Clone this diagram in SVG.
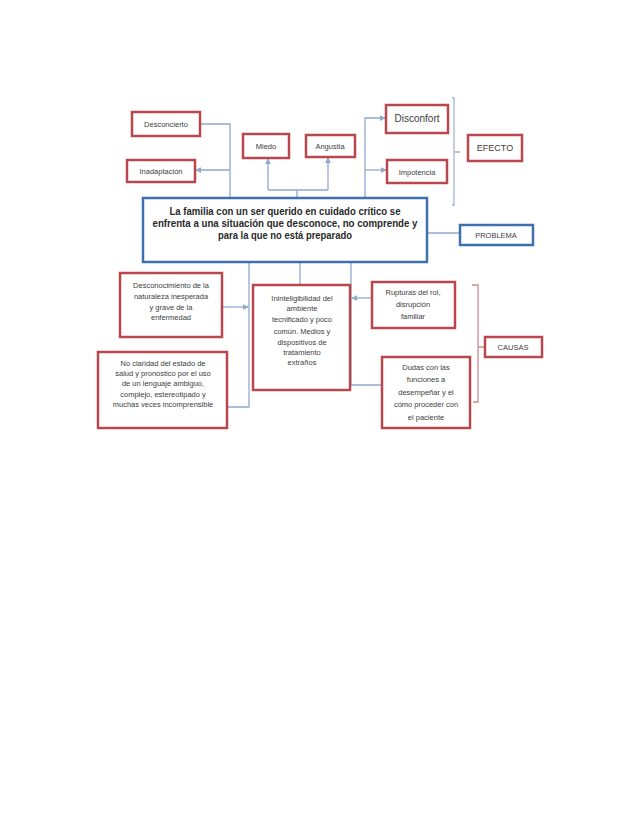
<svg xmlns="http://www.w3.org/2000/svg" width="638" height="826" viewBox="0 0 638 826">
<style>
.rb{fill:#fff;stroke:#b8484e;stroke-width:2.5}
.bb{fill:#fff;stroke:#3f6fae;stroke-width:2.5}
.t{font-family:"Liberation Sans",Arial,sans-serif;font-size:7.5px;fill:#404040;text-anchor:middle}
.m{font-family:"Liberation Sans",Arial,sans-serif;font-size:10px;font-weight:bold;fill:#2a2a2a;text-anchor:middle}
.c{fill:none;stroke:#8fa9cc;stroke-width:1.3}
.br{fill:none;stroke:#a7b7cb;stroke-width:1.3}
.bc{fill:none;stroke:#cf8a90;stroke-width:1.3}
</style>
<defs>
<marker id="a" viewBox="0 0 8 8" refX="7" refY="4" markerWidth="6" markerHeight="6" orient="auto" markerUnits="userSpaceOnUse">
<path d="M0,0 L8,4 L0,8 z" fill="#8fa9cc"/>
</marker>
</defs>
<rect width="638" height="826" fill="#fff"/>
<g id="connectors">
<path class="c" d="M200,124 H230 V198"/>
<path class="c" d="M230,170 H196" marker-end="url(#a)"/>
<path class="c" d="M297,198 V190"/>
<path class="c" d="M268,190 H328"/>
<path class="c" d="M268,190 V159" marker-end="url(#a)"/>
<path class="c" d="M328,190 V158" marker-end="url(#a)"/>
<path class="c" d="M365,198 V118 H385" marker-end="url(#a)"/>
<path class="c" d="M365,170 H386" marker-end="url(#a)"/>
<path class="c" d="M427,233 H460"/>
<path class="c" d="M249,262 V407 H227"/>
<path class="c" d="M223,307 H248" marker-end="url(#a)"/>
<path class="c" d="M300,262 V285"/>
<path class="c" d="M351,262 V385 H382"/>
<path class="c" d="M372,298 H352" marker-end="url(#a)"/>
<path class="br" d="M452,98 H454 V205 H452 M454,152 H460"/>
<path class="bc" d="M472,285 H478 V402 H473 M478,347 H484"/>
</g>
<g id="desconcierto"><rect class="rb" x="132" y="112" width="68" height="24"/><text class="t" x="166" y="127">Desconcierto</text></g>
<g id="inadaptacion"><rect class="rb" x="127" y="160" width="68" height="22"/><text class="t" x="161" y="174">Inadaptación</text></g>
<g id="miedo"><rect class="rb" x="243" y="134" width="46" height="24"/><text class="t" x="266" y="149">Miedo</text></g>
<g id="angustia"><rect class="rb" x="306" y="135" width="49" height="22"/><text class="t" x="330" y="149">Angustia</text></g>
<g id="disconfort"><rect class="rb" x="386" y="105" width="62" height="28"/><text class="t" x="417" y="122" style="font-size:10px">Disconfort</text></g>
<g id="impotencia"><rect class="rb" x="387" y="160" width="60" height="23"/><text class="t" x="417" y="175">Impotencia</text></g>
<g id="efecto"><rect class="rb" x="468" y="135" width="54" height="26"/><text class="t" x="495" y="151" style="font-size:9px">EFECTO</text></g>
<g id="problema-central"><rect class="bb" x="143" y="198" width="284" height="64"/>
<text class="m" x="285" y="215" textLength="231" lengthAdjust="spacingAndGlyphs">La familia con un ser querido en cuidado crítico se</text>
<text class="m" x="285" y="227" textLength="265" lengthAdjust="spacingAndGlyphs">enfrenta a una situación que desconoce, no comprende y</text>
<text class="m" x="285" y="239" textLength="134" lengthAdjust="spacingAndGlyphs">para la que no está preparado</text></g>
<g id="problema"><rect class="bb" x="460" y="225" width="73" height="20"/><text class="t" x="496" y="238">PROBLEMA</text></g>
<g id="desconocimiento"><rect class="rb" x="120" y="273" width="102" height="64"/>
<text class="t" x="171" y="288">Desconocimiento de la</text>
<text class="t" x="171" y="299">naturaleza inesperada</text>
<text class="t" x="171" y="310">y grave de la</text>
<text class="t" x="171" y="320">enfermedad</text></g>
<g id="no-claridad"><rect class="rb" x="98" y="352" width="129" height="76"/>
<text class="t" x="163" y="366">No claridad del estado de</text>
<text class="t" x="163" y="376">salud y pronóstico por el uso</text>
<text class="t" x="163" y="386">de un lenguaje ambiguo,</text>
<text class="t" x="163" y="397">complejo, estereotipado y</text>
<text class="t" x="163" y="407">muchas veces incomprensible</text></g>
<g id="ininteligibilidad"><rect class="rb" x="253" y="285" width="97" height="105"/>
<text class="t" x="302" y="301">Ininteligibilidad del</text>
<text class="t" x="302" y="311">ambiente</text>
<text class="t" x="302" y="322">tecnificado y poco</text>
<text class="t" x="302" y="334">común.  Medios y</text>
<text class="t" x="302" y="345">dispositivos de</text>
<text class="t" x="302" y="355">tratamiento</text>
<text class="t" x="302" y="365">extraños</text></g>
<g id="rupturas"><rect class="rb" x="372" y="282" width="83" height="46"/>
<text class="t" x="413" y="295">Rupturas del rol,</text>
<text class="t" x="413" y="307">disrupción</text>
<text class="t" x="413" y="319">familiar</text></g>
<g id="dudas"><rect class="rb" x="382" y="357" width="88" height="71"/>
<text class="t" x="426" y="370">Dudas con las</text>
<text class="t" x="426" y="382">funciones a</text>
<text class="t" x="426" y="395">desempeñar y el</text>
<text class="t" x="426" y="407">cómo proceder  con</text>
<text class="t" x="426" y="420">el paciente</text></g>
<g id="causas"><rect class="rb" x="485" y="337" width="57" height="20"/><text class="t" x="513" y="350">CAUSAS</text></g>
</svg>
